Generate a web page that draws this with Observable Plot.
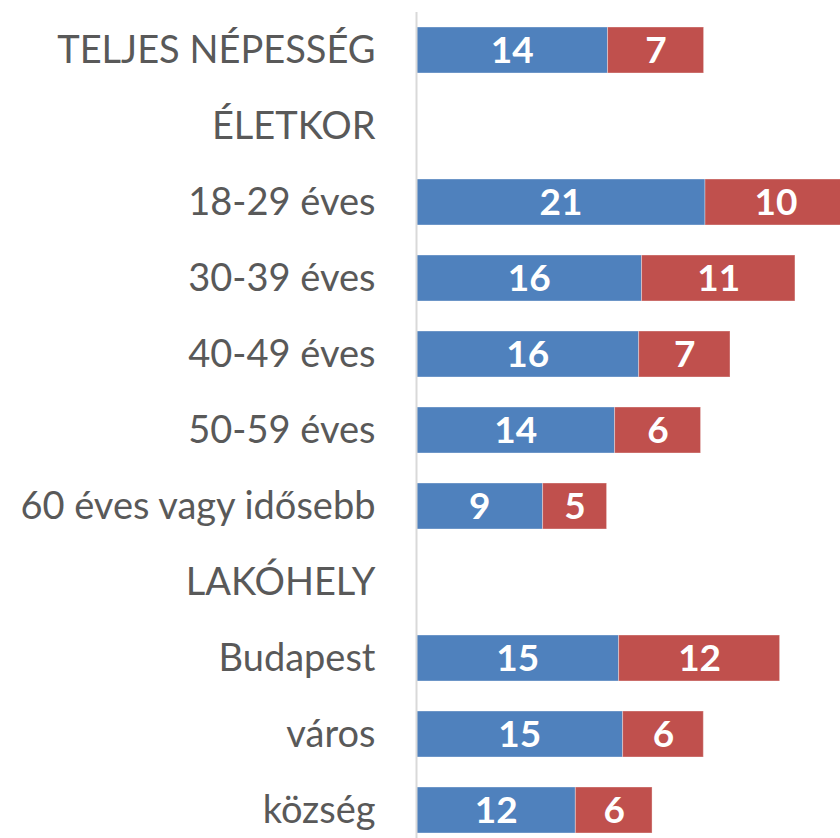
<!DOCTYPE html>
<html>
<head>
<meta charset="utf-8">
<script src="https://cdn.jsdelivr.net/npm/d3@7"></script>
<script src="https://cdn.jsdelivr.net/npm/@observablehq/plot@0.6"></script>
<style>
  html, body { margin: 0; padding: 0; background: #fff; }
</style>
</head>
<body>
<div id="chart"></div>
<script>
const categories = ["TELJES NÉPESSÉG", "ÉLETKOR", "18-29 éves", "30-39 éves", "40-49 éves", "50-59 éves", "60 éves vagy idősebb", "LAKÓHELY", "Budapest", "város", "község"];
const blueValues = [13.86, null, 20.91, 16.32, 16.11, 14.37, 9.16, null, 14.66, 14.95, 11.53];
const redValues  = [6.95, null, 10.2, 11.10, 6.61, 6.22, 4.63, null, 11.65, 5.84, 5.55];
const seriesNames = ["kék", "piros"];
const seriesColors = ["#4F81BD", "#C0504D"];

const rows = [];
categories.forEach((c, i) => {
  if (blueValues[i] != null) rows.push({cat: c, series: seriesNames[0], value: blueValues[i]});
  if (redValues[i] != null) rows.push({cat: c, series: seriesNames[1], value: redValues[i]});
});

const chart = Plot.plot({
  width: 840,
  height: 838,
  marginLeft: 416,
  marginRight: 0,
  marginTop: 12,
  marginBottom: 0,
  style: {fontFamily: "Lato, sans-serif", background: "#fff"},
  x: {domain: [0, 30.68], axis: null},
  y: {domain: categories, range: [12, 848], paddingInner: 0.4, paddingOuter: 0.2, label: null},
  color: {domain: seriesNames, range: seriesColors},
  marks: [
    Plot.barX(rows, Plot.stackX({x: "value", y: "cat", z: "series", fill: "series", stroke: "#ffffff", strokeOpacity: 0.35, strokeWidth: 1})),
    Plot.textX(rows, Plot.stackX({x: "value", y: "cat", z: "series", text: d => String(Math.round(d.value)), fill: "#ffffff", fontSize: 37, fontWeight: "bold", dy: 1})),
    Plot.ruleX([0], {stroke: "#d9d9d9", strokeWidth: 2}),
    Plot.axisY({tickSize: 0, tickPadding: 41, fontSize: 38, color: "#595959", label: null})
  ]
});
document.getElementById("chart").appendChild(chart);
</script>
</body>
</html>
